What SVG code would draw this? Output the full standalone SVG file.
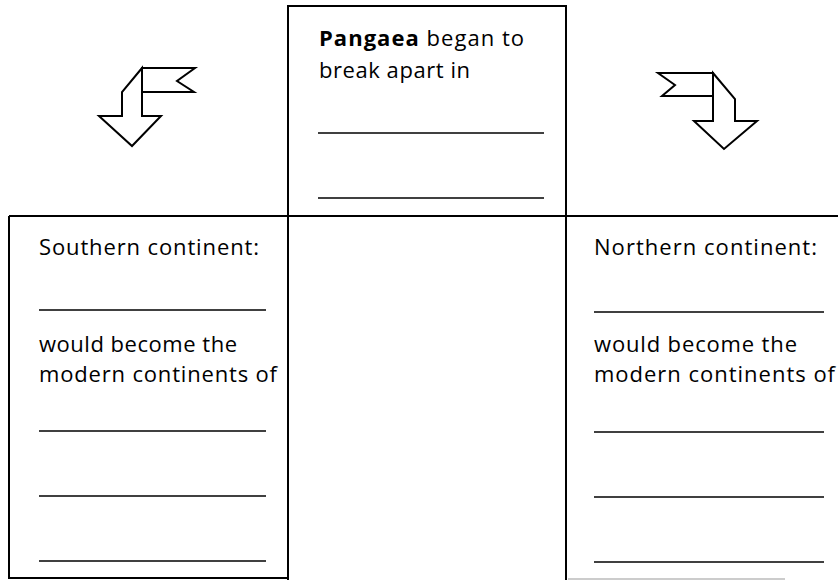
<svg xmlns="http://www.w3.org/2000/svg" width="838" height="580" viewBox="0 0 838 580">
<style>
.t{font-family:"Open Sans","Liberation Sans",sans-serif;font-size:22px;fill:#000}
.b{stroke:#000;stroke-width:2;fill:none}
.ln{stroke:#000;stroke-width:1.5}
.ar{stroke:#000;stroke-width:2;fill:#fff;stroke-linejoin:miter}
</style>
<rect width="838" height="580" fill="#fff"/>
<g id="center">
<path class="b" d="M288,580 V6 H566 V580"/>
<text class="t" x="319" y="46" textLength="205"><tspan font-weight="bold">Pangaea</tspan> began to</text>
<text class="t" x="319" y="78" textLength="151">break apart in</text>
<line class="ln" x1="318" y1="133" x2="544" y2="133"/>
<line class="ln" x1="318" y1="198" x2="544" y2="198"/>
</g>
<g id="divider">
<line class="b" x1="9" y1="216" x2="838" y2="216"/>
</g>
<g id="southern">
<path class="b" d="M9,216 V578 H288"/>
<text class="t" x="39" y="255" textLength="220">Southern continent:</text>
<line class="ln" x1="39" y1="310" x2="266" y2="310"/>
<text class="t" x="39" y="352" textLength="198">would become the</text>
<text class="t" x="39" y="382" textLength="238">modern continents of</text>
<line class="ln" x1="39" y1="431" x2="266" y2="431"/>
<line class="ln" x1="39" y1="496" x2="266" y2="496"/>
<line class="ln" x1="39" y1="561" x2="266" y2="561"/>
</g>
<g id="northern">
<line x1="568" y1="579" x2="785" y2="579" stroke="#999" stroke-width="1"/>
<text class="t" x="594" y="255" textLength="223">Northern continent:</text>
<line class="ln" x1="594" y1="312" x2="824" y2="312"/>
<text class="t" x="594" y="352" textLength="203">would become the</text>
<text class="t" x="594" y="382" textLength="241">modern continents of</text>
<line class="ln" x1="594" y1="432" x2="824" y2="432"/>
<line class="ln" x1="594" y1="497" x2="824" y2="497"/>
<line class="ln" x1="594" y1="562" x2="824" y2="562"/>
</g>
<g id="connectors">
<g id="arrow-left">
<path class="ar" d="M142,68 H195 L177,81 L194,92 H142 Z"/>
<path class="ar" d="M142,68 L122,92 V116 H99 L132,146 L161,116 H142 Z"/>
</g>
<g id="arrow-right">
<path class="ar" d="M713,73 H658 L675,85 L662,96 H713 Z"/>
<path class="ar" d="M713,73 L735,99 V121 H757 L724,149 L694,121 H713 Z"/>
</g>
</g>
</svg>
